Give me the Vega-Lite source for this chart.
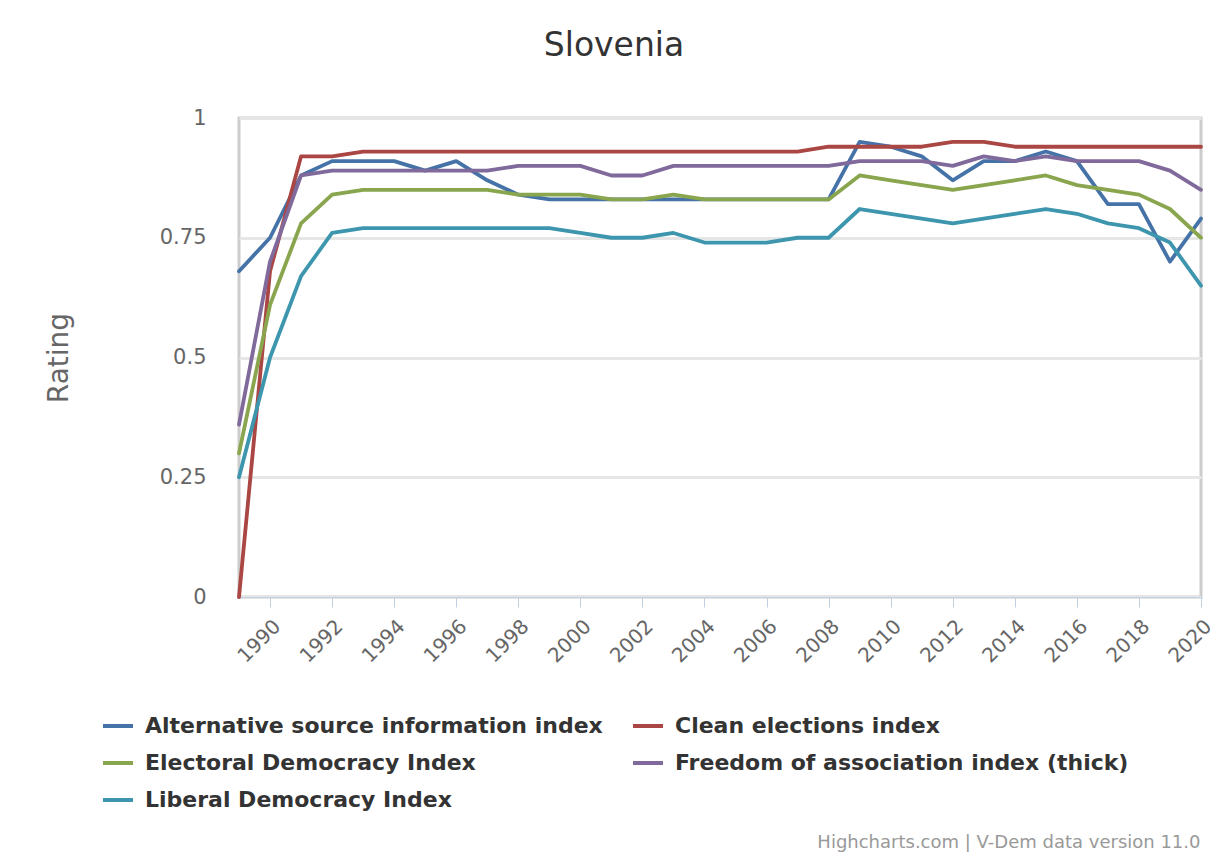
{
  "$schema": "https://vega.github.io/schema/vega-lite/v6.json",
  "autosize": {"type": "none"},
  "padding": {"left": 239, "top": 118, "right": 14, "bottom": 256},
  "width": 962,
  "height": 479,
  "background": "#ffffff",
  "title": {
    "text": "Slovenia",
    "font": "DejaVu Sans",
    "fontSize": 33,
    "fontWeight": "normal",
    "color": "#333333",
    "anchor": "middle",
    "dx": -106,
    "offset": 44
  },
  "data": {
    "values": [
      {"series": "Alternative source information index", "year": 1989, "value": 0.68},
      {"series": "Alternative source information index", "year": 1990, "value": 0.75},
      {"series": "Alternative source information index", "year": 1991, "value": 0.88},
      {"series": "Alternative source information index", "year": 1992, "value": 0.91},
      {"series": "Alternative source information index", "year": 1993, "value": 0.91},
      {"series": "Alternative source information index", "year": 1994, "value": 0.91},
      {"series": "Alternative source information index", "year": 1995, "value": 0.89},
      {"series": "Alternative source information index", "year": 1996, "value": 0.91},
      {"series": "Alternative source information index", "year": 1997, "value": 0.87},
      {"series": "Alternative source information index", "year": 1998, "value": 0.84},
      {"series": "Alternative source information index", "year": 1999, "value": 0.83},
      {"series": "Alternative source information index", "year": 2000, "value": 0.83},
      {"series": "Alternative source information index", "year": 2001, "value": 0.83},
      {"series": "Alternative source information index", "year": 2002, "value": 0.83},
      {"series": "Alternative source information index", "year": 2003, "value": 0.83},
      {"series": "Alternative source information index", "year": 2004, "value": 0.83},
      {"series": "Alternative source information index", "year": 2005, "value": 0.83},
      {"series": "Alternative source information index", "year": 2006, "value": 0.83},
      {"series": "Alternative source information index", "year": 2007, "value": 0.83},
      {"series": "Alternative source information index", "year": 2008, "value": 0.83},
      {"series": "Alternative source information index", "year": 2009, "value": 0.95},
      {"series": "Alternative source information index", "year": 2010, "value": 0.94},
      {"series": "Alternative source information index", "year": 2011, "value": 0.92},
      {"series": "Alternative source information index", "year": 2012, "value": 0.87},
      {"series": "Alternative source information index", "year": 2013, "value": 0.91},
      {"series": "Alternative source information index", "year": 2014, "value": 0.91},
      {"series": "Alternative source information index", "year": 2015, "value": 0.93},
      {"series": "Alternative source information index", "year": 2016, "value": 0.91},
      {"series": "Alternative source information index", "year": 2017, "value": 0.82},
      {"series": "Alternative source information index", "year": 2018, "value": 0.82},
      {"series": "Alternative source information index", "year": 2019, "value": 0.70},
      {"series": "Alternative source information index", "year": 2020, "value": 0.79},

      {"series": "Clean elections index", "year": 1989, "value": 0.0},
      {"series": "Clean elections index", "year": 1990, "value": 0.68},
      {"series": "Clean elections index", "year": 1991, "value": 0.92},
      {"series": "Clean elections index", "year": 1992, "value": 0.92},
      {"series": "Clean elections index", "year": 1993, "value": 0.93},
      {"series": "Clean elections index", "year": 1994, "value": 0.93},
      {"series": "Clean elections index", "year": 1995, "value": 0.93},
      {"series": "Clean elections index", "year": 1996, "value": 0.93},
      {"series": "Clean elections index", "year": 1997, "value": 0.93},
      {"series": "Clean elections index", "year": 1998, "value": 0.93},
      {"series": "Clean elections index", "year": 1999, "value": 0.93},
      {"series": "Clean elections index", "year": 2000, "value": 0.93},
      {"series": "Clean elections index", "year": 2001, "value": 0.93},
      {"series": "Clean elections index", "year": 2002, "value": 0.93},
      {"series": "Clean elections index", "year": 2003, "value": 0.93},
      {"series": "Clean elections index", "year": 2004, "value": 0.93},
      {"series": "Clean elections index", "year": 2005, "value": 0.93},
      {"series": "Clean elections index", "year": 2006, "value": 0.93},
      {"series": "Clean elections index", "year": 2007, "value": 0.93},
      {"series": "Clean elections index", "year": 2008, "value": 0.94},
      {"series": "Clean elections index", "year": 2009, "value": 0.94},
      {"series": "Clean elections index", "year": 2010, "value": 0.94},
      {"series": "Clean elections index", "year": 2011, "value": 0.94},
      {"series": "Clean elections index", "year": 2012, "value": 0.95},
      {"series": "Clean elections index", "year": 2013, "value": 0.95},
      {"series": "Clean elections index", "year": 2014, "value": 0.94},
      {"series": "Clean elections index", "year": 2015, "value": 0.94},
      {"series": "Clean elections index", "year": 2016, "value": 0.94},
      {"series": "Clean elections index", "year": 2017, "value": 0.94},
      {"series": "Clean elections index", "year": 2018, "value": 0.94},
      {"series": "Clean elections index", "year": 2019, "value": 0.94},
      {"series": "Clean elections index", "year": 2020, "value": 0.94},

      {"series": "Electoral Democracy Index", "year": 1989, "value": 0.30},
      {"series": "Electoral Democracy Index", "year": 1990, "value": 0.61},
      {"series": "Electoral Democracy Index", "year": 1991, "value": 0.78},
      {"series": "Electoral Democracy Index", "year": 1992, "value": 0.84},
      {"series": "Electoral Democracy Index", "year": 1993, "value": 0.85},
      {"series": "Electoral Democracy Index", "year": 1994, "value": 0.85},
      {"series": "Electoral Democracy Index", "year": 1995, "value": 0.85},
      {"series": "Electoral Democracy Index", "year": 1996, "value": 0.85},
      {"series": "Electoral Democracy Index", "year": 1997, "value": 0.85},
      {"series": "Electoral Democracy Index", "year": 1998, "value": 0.84},
      {"series": "Electoral Democracy Index", "year": 1999, "value": 0.84},
      {"series": "Electoral Democracy Index", "year": 2000, "value": 0.84},
      {"series": "Electoral Democracy Index", "year": 2001, "value": 0.83},
      {"series": "Electoral Democracy Index", "year": 2002, "value": 0.83},
      {"series": "Electoral Democracy Index", "year": 2003, "value": 0.84},
      {"series": "Electoral Democracy Index", "year": 2004, "value": 0.83},
      {"series": "Electoral Democracy Index", "year": 2005, "value": 0.83},
      {"series": "Electoral Democracy Index", "year": 2006, "value": 0.83},
      {"series": "Electoral Democracy Index", "year": 2007, "value": 0.83},
      {"series": "Electoral Democracy Index", "year": 2008, "value": 0.83},
      {"series": "Electoral Democracy Index", "year": 2009, "value": 0.88},
      {"series": "Electoral Democracy Index", "year": 2010, "value": 0.87},
      {"series": "Electoral Democracy Index", "year": 2011, "value": 0.86},
      {"series": "Electoral Democracy Index", "year": 2012, "value": 0.85},
      {"series": "Electoral Democracy Index", "year": 2013, "value": 0.86},
      {"series": "Electoral Democracy Index", "year": 2014, "value": 0.87},
      {"series": "Electoral Democracy Index", "year": 2015, "value": 0.88},
      {"series": "Electoral Democracy Index", "year": 2016, "value": 0.86},
      {"series": "Electoral Democracy Index", "year": 2017, "value": 0.85},
      {"series": "Electoral Democracy Index", "year": 2018, "value": 0.84},
      {"series": "Electoral Democracy Index", "year": 2019, "value": 0.81},
      {"series": "Electoral Democracy Index", "year": 2020, "value": 0.75},

      {"series": "Freedom of association index (thick)", "year": 1989, "value": 0.36},
      {"series": "Freedom of association index (thick)", "year": 1990, "value": 0.70},
      {"series": "Freedom of association index (thick)", "year": 1991, "value": 0.88},
      {"series": "Freedom of association index (thick)", "year": 1992, "value": 0.89},
      {"series": "Freedom of association index (thick)", "year": 1993, "value": 0.89},
      {"series": "Freedom of association index (thick)", "year": 1994, "value": 0.89},
      {"series": "Freedom of association index (thick)", "year": 1995, "value": 0.89},
      {"series": "Freedom of association index (thick)", "year": 1996, "value": 0.89},
      {"series": "Freedom of association index (thick)", "year": 1997, "value": 0.89},
      {"series": "Freedom of association index (thick)", "year": 1998, "value": 0.90},
      {"series": "Freedom of association index (thick)", "year": 1999, "value": 0.90},
      {"series": "Freedom of association index (thick)", "year": 2000, "value": 0.90},
      {"series": "Freedom of association index (thick)", "year": 2001, "value": 0.88},
      {"series": "Freedom of association index (thick)", "year": 2002, "value": 0.88},
      {"series": "Freedom of association index (thick)", "year": 2003, "value": 0.90},
      {"series": "Freedom of association index (thick)", "year": 2004, "value": 0.90},
      {"series": "Freedom of association index (thick)", "year": 2005, "value": 0.90},
      {"series": "Freedom of association index (thick)", "year": 2006, "value": 0.90},
      {"series": "Freedom of association index (thick)", "year": 2007, "value": 0.90},
      {"series": "Freedom of association index (thick)", "year": 2008, "value": 0.90},
      {"series": "Freedom of association index (thick)", "year": 2009, "value": 0.91},
      {"series": "Freedom of association index (thick)", "year": 2010, "value": 0.91},
      {"series": "Freedom of association index (thick)", "year": 2011, "value": 0.91},
      {"series": "Freedom of association index (thick)", "year": 2012, "value": 0.90},
      {"series": "Freedom of association index (thick)", "year": 2013, "value": 0.92},
      {"series": "Freedom of association index (thick)", "year": 2014, "value": 0.91},
      {"series": "Freedom of association index (thick)", "year": 2015, "value": 0.92},
      {"series": "Freedom of association index (thick)", "year": 2016, "value": 0.91},
      {"series": "Freedom of association index (thick)", "year": 2017, "value": 0.91},
      {"series": "Freedom of association index (thick)", "year": 2018, "value": 0.91},
      {"series": "Freedom of association index (thick)", "year": 2019, "value": 0.89},
      {"series": "Freedom of association index (thick)", "year": 2020, "value": 0.85},

      {"series": "Liberal Democracy Index", "year": 1989, "value": 0.25},
      {"series": "Liberal Democracy Index", "year": 1990, "value": 0.50},
      {"series": "Liberal Democracy Index", "year": 1991, "value": 0.67},
      {"series": "Liberal Democracy Index", "year": 1992, "value": 0.76},
      {"series": "Liberal Democracy Index", "year": 1993, "value": 0.77},
      {"series": "Liberal Democracy Index", "year": 1994, "value": 0.77},
      {"series": "Liberal Democracy Index", "year": 1995, "value": 0.77},
      {"series": "Liberal Democracy Index", "year": 1996, "value": 0.77},
      {"series": "Liberal Democracy Index", "year": 1997, "value": 0.77},
      {"series": "Liberal Democracy Index", "year": 1998, "value": 0.77},
      {"series": "Liberal Democracy Index", "year": 1999, "value": 0.77},
      {"series": "Liberal Democracy Index", "year": 2000, "value": 0.76},
      {"series": "Liberal Democracy Index", "year": 2001, "value": 0.75},
      {"series": "Liberal Democracy Index", "year": 2002, "value": 0.75},
      {"series": "Liberal Democracy Index", "year": 2003, "value": 0.76},
      {"series": "Liberal Democracy Index", "year": 2004, "value": 0.74},
      {"series": "Liberal Democracy Index", "year": 2005, "value": 0.74},
      {"series": "Liberal Democracy Index", "year": 2006, "value": 0.74},
      {"series": "Liberal Democracy Index", "year": 2007, "value": 0.75},
      {"series": "Liberal Democracy Index", "year": 2008, "value": 0.75},
      {"series": "Liberal Democracy Index", "year": 2009, "value": 0.81},
      {"series": "Liberal Democracy Index", "year": 2010, "value": 0.80},
      {"series": "Liberal Democracy Index", "year": 2011, "value": 0.79},
      {"series": "Liberal Democracy Index", "year": 2012, "value": 0.78},
      {"series": "Liberal Democracy Index", "year": 2013, "value": 0.79},
      {"series": "Liberal Democracy Index", "year": 2014, "value": 0.80},
      {"series": "Liberal Democracy Index", "year": 2015, "value": 0.81},
      {"series": "Liberal Democracy Index", "year": 2016, "value": 0.80},
      {"series": "Liberal Democracy Index", "year": 2017, "value": 0.78},
      {"series": "Liberal Democracy Index", "year": 2018, "value": 0.77},
      {"series": "Liberal Democracy Index", "year": 2019, "value": 0.74},
      {"series": "Liberal Democracy Index", "year": 2020, "value": 0.65}
    ]
  },
  "mark": {"type": "line", "strokeWidth": 3.8, "strokeJoin": "round", "strokeCap": "round"},
  "encoding": {
    "x": {
      "field": "year",
      "type": "quantitative",
      "scale": {"domain": [1989, 2020], "nice": false, "zero": false},
      "axis": {
        "values": [1990, 1992, 1994, 1996, 1998, 2000, 2002, 2004, 2006, 2008, 2010, 2012, 2014, 2016, 2018, 2020],
        "format": "d",
        "labelAngle": -45,
        "labelFont": "DejaVu Sans",
        "labelFontSize": 20,
        "labelColor": "#666666",
        "labelPadding": 9,
        "labelDx": -2,
        "tickColor": "#C0D0E0",
        "tickSize": 10,
        "tickWidth": 1,
        "domainColor": "#C0D0E0",
        "domainWidth": 1,
        "grid": false,
        "title": "Highcharts.com | V-Dem data version 11.0",
        "titleFont": "DejaVu Sans",
        "titleFontSize": 18,
        "titleFontWeight": "normal",
        "titleColor": "#999999",
        "titleAnchor": "end",
        "titleAlign": "right",
        "titleBaseline": "middle",
        "titleX": 961,
        "titleY": 245
      }
    },
    "y": {
      "field": "value",
      "type": "quantitative",
      "scale": {"domain": [0, 1], "nice": false},
      "axis": {
        "values": [0, 0.25, 0.5, 0.75, 1],
        "labelExpr": "'' + datum.value",
        "labelFont": "DejaVu Sans",
        "labelFontSize": 21,
        "labelColor": "#666666",
        "labelPadding": 33,
        "ticks": false,
        "domain": false,
        "grid": true,
        "gridColor": "#E6E6E6",
        "gridWidth": 3,
        "title": "Rating",
        "titleFont": "DejaVu Sans",
        "titleFontSize": 28,
        "titleFontWeight": "normal",
        "titleColor": "#666666",
        "titlePadding": 86
      }
    },
    "color": {
      "field": "series",
      "type": "nominal",
      "scale": {
        "domain": ["Alternative source information index", "Clean elections index", "Electoral Democracy Index", "Freedom of association index (thick)", "Liberal Democracy Index"],
        "range": ["#4572A7", "#AA4643", "#89A54E", "#80699B", "#3D96AE"]
      },
      "legend": {
        "title": null,
        "orient": "none",
        "direction": "horizontal",
        "legendX": -138,
        "legendY": 591,
        "columns": 2,
        "symbolType": "stroke",
        "symbolSize": 900,
        "symbolStrokeWidth": 4,
        "labelFont": "DejaVu Sans",
        "labelFontSize": 22,
        "labelFontWeight": "bold",
        "labelColor": "#333333",
        "labelLimit": 0,
        "labelOffset": 10,
        "columnPadding": 22,
        "rowPadding": 9,
        "padding": 0
      }
    }
  },
  "config": {
    "view": {"stroke": "#CCCCCC", "strokeWidth": 3}
  }
}
